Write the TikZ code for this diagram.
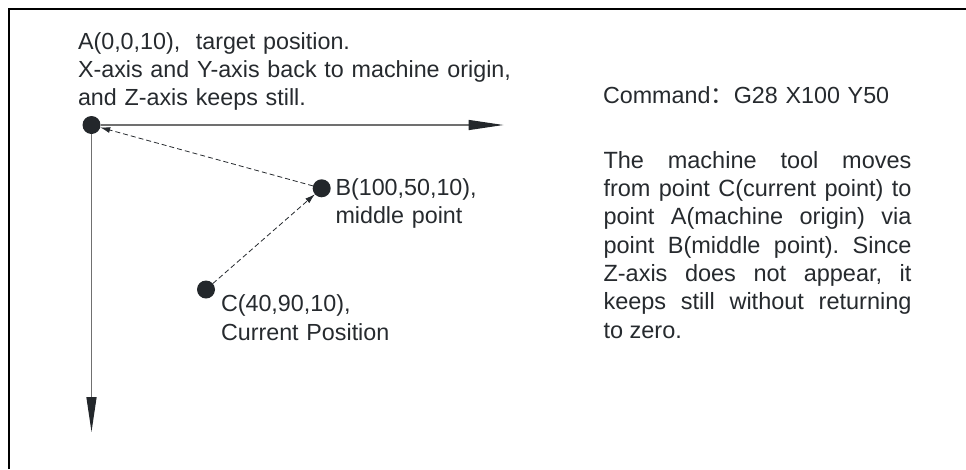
\documentclass[tikz,border=0pt]{standalone}
\usepackage{fontspec}
\setmainfont{Liberation Sans}
\newfontfamily\cjkfont{Noto Sans CJK SC}
\usetikzlibrary{arrows.meta}
\frenchspacing
\definecolor{ink}{HTML}{262A2E}
\definecolor{axisgray}{HTML}{707070}
\definecolor{dotcol}{HTML}{23272B}
\tikzset{
  dot/.style={circle, fill=dotcol, draw=none, minimum size=18pt, inner sep=0pt, outer sep=0pt},
  axisline/.style={draw=axisgray, line width=1.3pt, -{Triangle[length=35pt,width=10pt,color=dotcol]}},
  moveline/.style={draw=ink, line width=0.8pt, dash pattern=on 5pt off 3pt, -{Latex[length=10pt,width=6pt]}},
  lbl/.style={inner sep=0pt, outer sep=0pt, anchor=base west, text=ink, align=left, text width=#1,
    font=\fontsize{23.3}{28.3}\selectfont},
  lbl/.default=500pt,
  para/.style={inner sep=0pt, outer sep=0pt, anchor=base west, text=ink, text width=308pt, align=justify,
    font=\fontsize{23.5}{28.3}\selectfont}
}
\begin{document}
\begin{tikzpicture}[x=1pt,y=-1pt]
\useasboundingbox (0,0) rectangle (966,469);
% frame (only left and top edges visible)
\draw[line width=2pt, black] (9.2,469) -- (9.2,9.2) -- (966,9.2);
% points
\node[dot] (A) at (91.5,125) {};
\node[dot] (B) at (321.7,188.3) {};
\node[dot] (C) at (206,289.5) {};
\coordinate (xend) at (503.5,125);
\coordinate (yend) at (91.5,432);
% axes
\draw[axisline] (A) -- (xend);
\draw[axisline] (A) -- (yend);
% movements
\draw[moveline] (C) -- (B);
\draw[moveline] (B) -- (A);
% labels
\node[lbl] (tA) at (78,49.3) {A(0,0,10),\ \ target position.\\X-axis and Y-axis back to machine origin,\\and Z-axis keeps still.};
\node[lbl=300pt] (tB) at (335.5,195.3) {B(100,50,10),\\middle point};
\node[lbl=300pt] (tC) at (221,311.7) {C(40,90,10),\\Current Position};
\node[lbl=340pt] (cmd) at (603,103.3) {Command{\cjkfont ：}G28 X100 Y50};
\node[para] (desc) at (603.5,168.3) {The machine tool moves\linebreak
from point C(current point) to\linebreak
point A(machine origin) via\linebreak
point B(middle point). Since\linebreak
Z-axis does not appear, it\linebreak
keeps still without returning\linebreak
to zero.};
\end{tikzpicture}
\end{document}
